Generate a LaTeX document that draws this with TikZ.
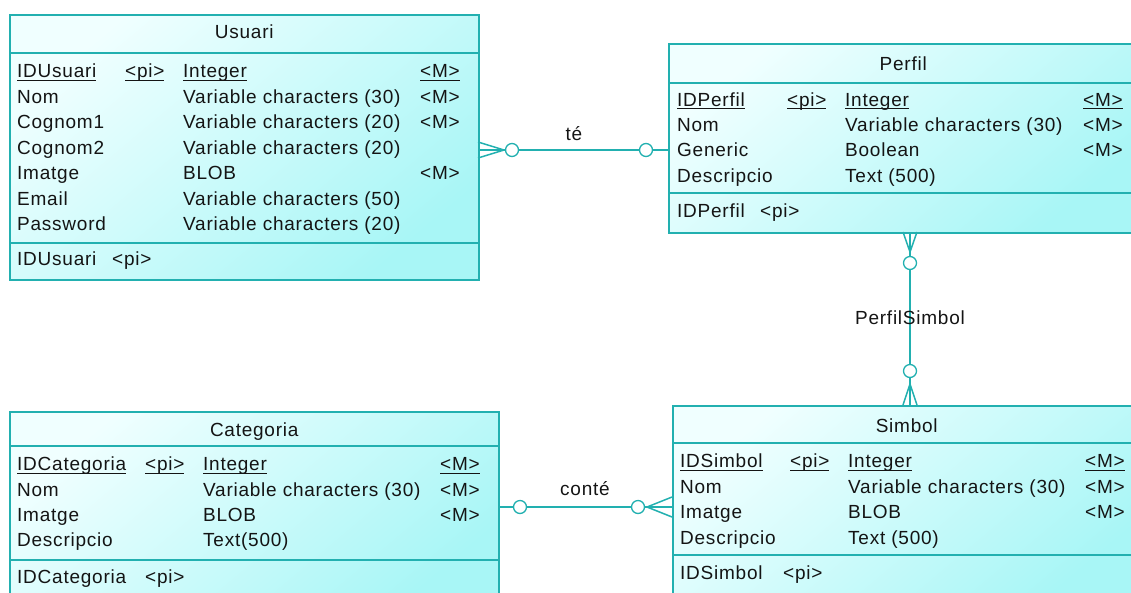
\documentclass[tikz,border=0pt]{standalone}
\usepackage{fontspec}
\setmainfont{Liberation Sans}[LetterSpace=4]
\usetikzlibrary{calc}

\definecolor{erline}{HTML}{22B0B0}
\definecolor{erlight}{HTML}{F0FFFF}
\definecolor{ercyan}{HTML}{A8F6F6}
\definecolor{ertext}{HTML}{141414}

\newcommand\erkey[1]{\setbox0=\hbox{#1}\rlap{\rule[-3pt]{\wd0}{1.1pt}}\box0}

\tikzset{
  entity/.style={draw=erline,line width=1.5pt,top color=erlight,bottom color=ercyan,
    shading angle=40,anchor=north west,inner sep=0pt},
  divider/.style={draw=erline,line width=1.5pt},
  field/.style={anchor=west,inner sep=0pt,text height=1.38ex,text depth=0pt,text=ertext,
    yshift=-3pt,font=\fontsize{19}{22}\selectfont},
  etitle/.style={field,anchor=center},
  link/.style={draw=erline,line width=1.5pt},
  ring/.style={circle,draw=erline,line width=1.3pt,fill=white,minimum size=13pt,inner sep=0pt}
}

\begin{document}
\begin{tikzpicture}[x=1pt,y=-1pt]
    \clip (0,0) rectangle (1131,592);

    % Usuari
    \node[entity,minimum width=469pt,minimum height=265pt] (usuari) at (9,14) {};
    \draw[divider] (usuari.west |- 0,53) -- (usuari.east |- 0,53);
    \draw[divider] (usuari.west |- 0,243) -- (usuari.east |- 0,243);
    \node[etitle] (usuari-t) at (usuari.north |- 0,32) {Usuari};
    \node[field] (usuari-n0) at (17,71) {\erkey{IDUsuari}};
    \node[field] (usuari-p0) at (125,71) {\erkey{<pi>}};
    \node[field] (usuari-d0) at (183,71) {\erkey{Integer}};
    \node[field] (usuari-m0) at (420,71) {\erkey{<M>}};
    \foreach \n/\t/\m [count=\i] in {Nom/Variable characters (30)/<M>,
        Cognom1/Variable characters (20)/<M>, Cognom2/Variable characters (20)/{},
        Imatge/BLOB/<M>, Email/Variable characters (50)/{}, Password/Variable characters (20)/{}}{
      \node[field] (usuari-n\i) at (17,71+25.5*\i) {\n};
      \node[field] (usuari-d\i) at (183,71+25.5*\i) {\t};
      \node[field] (usuari-m\i) at (420,71+25.5*\i) {\m};
    }
    \node[field] (usuari-k) at (17,259) {IDUsuari};
    \node[field] (usuari-kp) at (112,259) {<pi>};

    % Perfil
    \node[entity,minimum width=469pt,minimum height=189pt] (perfil) at (668,43) {};
    \draw[divider] (perfil.west |- 0,83) -- (perfil.east |- 0,83);
    \draw[divider] (perfil.west |- 0,193) -- (perfil.east |- 0,193);
    \node[etitle] (perfil-t) at (perfil.north |- 0,64) {Perfil};
    \node[field] (perfil-n0) at (677,99.5) {\erkey{IDPerfil}};
    \node[field] (perfil-p0) at (787,99.5) {\erkey{<pi>}};
    \node[field] (perfil-d0) at (845,99.5) {\erkey{Integer}};
    \node[field] (perfil-m0) at (1083,99.5) {\erkey{<M>}};
    \foreach \n/\t/\m [count=\i] in {Nom/Variable characters (30)/<M>,
        Generic/Boolean/<M>, Descripcio/Text (500)/{}}{
      \node[field] (perfil-n\i) at (677,99.5+25.3*\i) {\n};
      \node[field] (perfil-d\i) at (845,99.5+25.3*\i) {\t};
      \node[field] (perfil-m\i) at (1083,99.5+25.3*\i) {\m};
    }
    \node[field] (perfil-k) at (677,211) {IDPerfil};
    \node[field] (perfil-kp) at (760,211) {<pi>};

    % Categoria
    \node[entity,minimum width=489pt,minimum height=200pt] (categoria) at (9,411) {};
    \draw[divider] (categoria.west |- 0,446) -- (categoria.east |- 0,446);
    \draw[divider] (categoria.west |- 0,560) -- (categoria.east |- 0,560);
    \node[etitle] (categoria-t) at (categoria.north |- 0,430) {Categoria};
    \node[field] (categoria-n0) at (17,464) {\erkey{IDCategoria}};
    \node[field] (categoria-p0) at (145,464) {\erkey{<pi>}};
    \node[field] (categoria-d0) at (203,464) {\erkey{Integer}};
    \node[field] (categoria-m0) at (440,464) {\erkey{<M>}};
    \foreach \n/\t/\m [count=\i] in {Nom/Variable characters (30)/<M>,
        Imatge/BLOB/<M>, Descripcio/Text(500)/{}}{
      \node[field] (categoria-n\i) at (17,464+25.4*\i) {\n};
      \node[field] (categoria-d\i) at (203,464+25.4*\i) {\t};
      \node[field] (categoria-m\i) at (440,464+25.4*\i) {\m};
    }
    \node[field] (categoria-k) at (17,577) {IDCategoria};
    \node[field] (categoria-kp) at (145,577) {<pi>};

    % Simbol
    \node[entity,minimum width=468pt,minimum height=200pt] (simbol) at (672,405) {};
    \draw[divider] (simbol.west |- 0,443) -- (simbol.east |- 0,443);
    \draw[divider] (simbol.west |- 0,555) -- (simbol.east |- 0,555);
    \node[etitle] (simbol-t) at (simbol.north |- 0,426) {Simbol};
    \node[field] (simbol-n0) at (680,461) {\erkey{IDSimbol}};
    \node[field] (simbol-p0) at (790,461) {\erkey{<pi>}};
    \node[field] (simbol-d0) at (848,461) {\erkey{Integer}};
    \node[field] (simbol-m0) at (1085,461) {\erkey{<M>}};
    \foreach \n/\t/\m [count=\i] in {Nom/Variable characters (30)/<M>,
        Imatge/BLOB/<M>, Descripcio/Text (500)/{}}{
      \node[field] (simbol-n\i) at (680,461+25.6*\i) {\n};
      \node[field] (simbol-d\i) at (848,461+25.6*\i) {\t};
      \node[field] (simbol-m\i) at (1085,461+25.6*\i) {\m};
    }
    \node[field] (simbol-k) at (680,573) {IDSimbol};
    \node[field] (simbol-kp) at (783,573) {<pi>};

    % te
    \coordinate (te-u) at (478,150);
    \coordinate (te-p) at (668,150);
    \coordinate (te-x) at (504,150);
    \node[ring] (te1) at (512,150) {};
    \node[ring] (te2) at (646,150) {};
    \draw[link] (te-u) -- (te1) -- (te2) -- (te-p);
    \draw[link] ($(te-u)+(0,-8)$) -- (te-x) -- ($(te-u)+(0,8)$);
    \node[etitle] (te) at (574,134) {té};

    % PerfilSimbol
    \coordinate (ps-p) at (910,232);
    \coordinate (ps-s) at (910,405);
    \coordinate (ps-x1) at (910,252);
    \coordinate (ps-x2) at (910,384);
    \node[ring] (ps1) at (910,263) {};
    \node[ring] (ps2) at (910,371) {};
    \draw[link] (ps-p) -- (ps1) -- (ps2) -- (ps-s);
    \draw[link] ($(ps-p)+(-7,0)$) -- (ps-x1) -- ($(ps-p)+(7,0)$);
    \draw[link] ($(ps-s)+(-7,0)$) -- (ps-x2) -- ($(ps-s)+(7,0)$);
    \node[etitle] (ps) at (910,318) {PerfilSimbol};

    % conte
    \coordinate (co-c) at (498,507);
    \coordinate (co-s) at (672,507);
    \coordinate (co-x) at (647,507);
    \node[ring] (co1) at (520,507) {};
    \node[ring] (co2) at (638,507) {};
    \draw[link] (co-c) -- (co1) -- (co2) -- (co-s);
    \draw[link] ($(co-s)+(0,-10)$) -- (co-x) -- ($(co-s)+(0,10)$);
    \node[etitle] (co) at (585,489) {conté};
\end{tikzpicture}
\end{document}
